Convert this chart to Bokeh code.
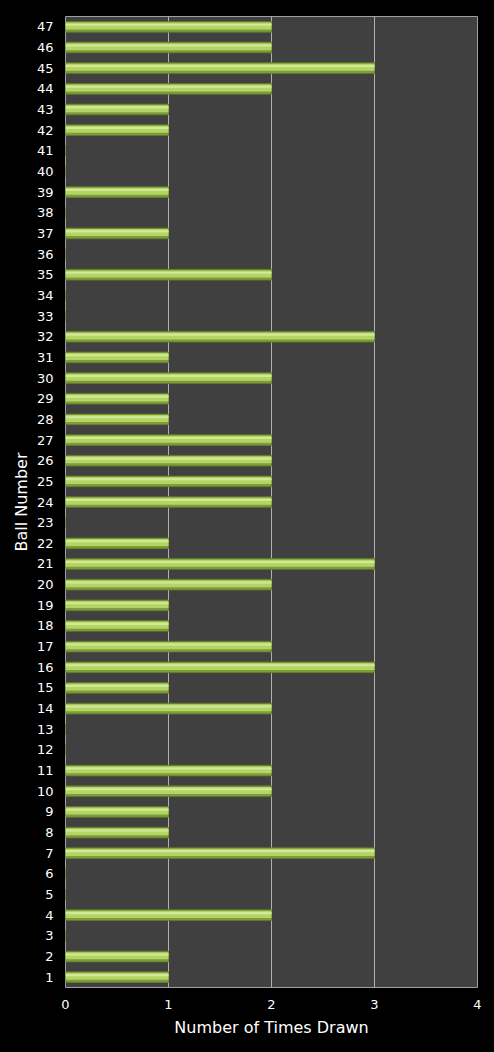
from bokeh.plotting import figure
from bokeh.models import ColumnDataSource, FactorRange, Range1d, FixedTicker
from bokeh.transform import dodge
from bokeh.embed import file_html
from bokeh.resources import INLINE

balls = [str(i) for i in range(1, 48)]
times_drawn = [1, 1, 0, 2, 0, 0, 3, 1, 1, 2,
               2, 0, 0, 2, 1, 3, 2, 1, 1, 2,
               3, 1, 0, 2, 2, 2, 2, 1, 1, 2,
               1, 3, 0, 0, 2, 0, 1, 0, 1, 0,
               0, 1, 1, 2, 3, 2, 2]
x_ticks = [0, 1, 2, 3, 4]

src = ColumnDataSource(dict(ball=balls, n=times_drawn))

p = figure(width=478, height=1036, y_range=FactorRange(*balls),
           x_range=Range1d(0, 4), output_backend="svg", toolbar_location=None,
           min_border_left=57, min_border_right=9, min_border_top=8,
           min_border_bottom=57)
p.background_fill_color = "#404040"
p.border_fill_color = "#000000"
p.outline_line_color = "#a0a0a0"
p.outline_line_width = 1

p.hbar(y="ball", right="n", left=0, height=0.52, source=src,
       fill_color="#7e9c3a", line_color="#5f7a28", line_width=0.8)
p.hbar(y=dodge("ball", 0.04, range=p.y_range), right="n", left=0, height=0.34,
       source=src, fill_color="#b4d464", line_color=None)
p.hbar(y=dodge("ball", 0.1, range=p.y_range), right="n", left=0, height=0.1,
       source=src, fill_color="#d2e99a", line_color=None)

p.xgrid.grid_line_color = "#b0b0b0"
p.xgrid.grid_line_width = 1
p.xgrid.ticker = FixedTicker(ticks=x_ticks)
p.ygrid.grid_line_color = None

p.xaxis.ticker = FixedTicker(ticks=x_ticks)
p.xaxis.axis_label = "Number of Times Drawn"
p.yaxis.axis_label = "Ball Number"
for ax in (p.xaxis[0], p.yaxis[0]):
    ax.axis_line_color = None
    ax.major_tick_line_color = None
    ax.minor_tick_line_color = None
    ax.major_tick_out = 0
    ax.minor_tick_out = 0
    ax.major_label_text_color = "#ffffff"
    ax.major_label_text_font = "DejaVu Sans"
    ax.major_label_text_font_size = "13px"
    ax.axis_label_text_color = "#ffffff"
    ax.axis_label_text_font = "DejaVu Sans"
    ax.axis_label_text_font_size = "16px"
    ax.axis_label_text_font_style = "normal"
p.xaxis.major_label_standoff = 12
p.yaxis.major_label_standoff = 12
p.xaxis.axis_label_standoff = 6
p.yaxis.axis_label_standoff = 3

html = file_html(p, INLINE)
html = html.replace("<body>", '<body style="background:#000000;margin:8px">')
open("out.html", "w").write(html)
